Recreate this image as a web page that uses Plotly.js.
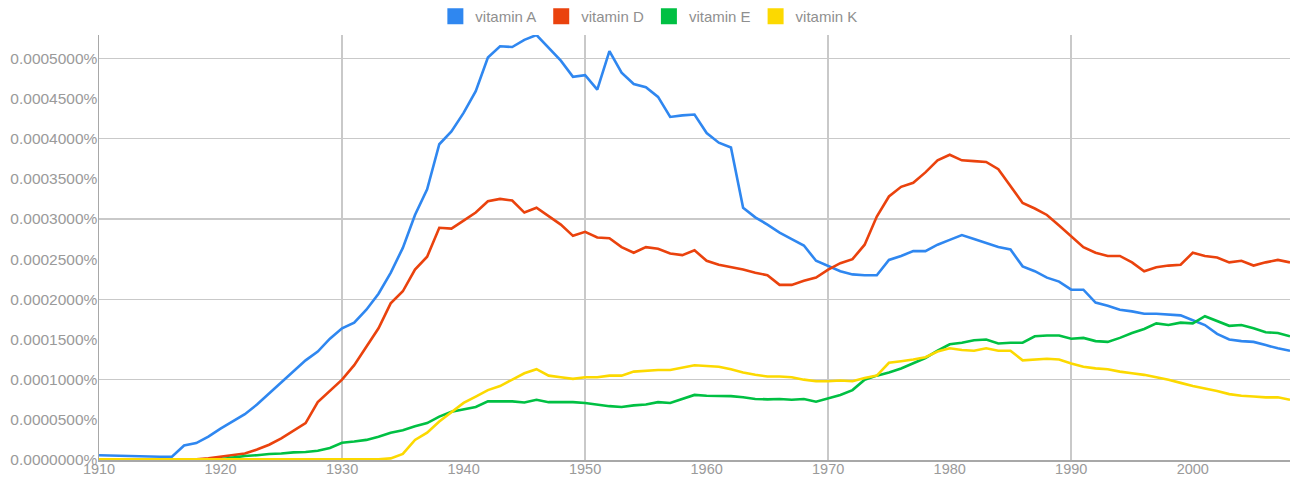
<!DOCTYPE html>
<html>
<head>
<meta charset="utf-8">
<script src="https://cdn.plot.ly/plotly-3.0.1.min.js"></script>
<style>
  html, body { margin: 0; padding: 0; background: #ffffff; }
  #chart { width: 1290px; height: 477px; }
</style>
</head>
<body>
<div id="chart"></div>
<script>
const years = [1910,1911,1912,1913,1914,1915,1916,1917,1918,1919,
  1920,1921,1922,1923,1924,1925,1926,1927,1928,1929,
  1930,1931,1932,1933,1934,1935,1936,1937,1938,1939,
  1940,1941,1942,1943,1944,1945,1946,1947,1948,1949,
  1950,1951,1952,1953,1954,1955,1956,1957,1958,1959,
  1960,1961,1962,1963,1964,1965,1966,1967,1968,1969,
  1970,1971,1972,1973,1974,1975,1976,1977,1978,1979,
  1980,1981,1982,1983,1984,1985,1986,1987,1988,1989,
  1990,1991,1992,1993,1994,1995,1996,1997,1998,1999,
  2000,2001,2002,2003,2004,2005,2006,2007,2008];

const vitaminA = [0.000006,0.0000055,0.000005,0.0000045,0.000004,0.000004,0.000004,0.000018,0.000021,0.000029,
  0.000039,0.000048,0.000057,0.000069,0.000083,0.000097,0.000111,0.000124,0.000135,0.000151,
  0.000164,0.000171,0.000187,0.000207,0.000233,0.000264,0.000305,0.000337,0.000393,0.000409,
  0.000432,0.000459,0.000501,0.000515,0.000514,0.000523,0.000529,0.000513,0.000497,0.000477,
  0.000479,0.000461,0.000509,0.000482,0.000468,0.000464,0.000452,0.000427,0.000429,0.000430,
  0.000407,0.000395,0.000389,0.000314,0.000302,0.000293,0.000283,0.000275,0.000267,0.000248,
  0.000241,0.000235,0.000231,0.000230,0.000230,0.000249,0.000254,0.000260,0.000260,0.000268,
  0.000274,0.000280,0.000275,0.000270,0.000265,0.000262,0.000241,0.000235,0.000227,0.000222,
  0.000212,0.000212,0.000196,0.000192,0.000187,0.000185,0.000182,0.000182,0.000181,0.000180,
  0.000174,0.000168,0.000157,0.000150,0.000148,0.000147,0.000143,0.000139,0.000136];

const vitaminD = [0.000001,0.000001,0.000001,0.000001,0.000001,0.000001,0.000001,0.000001,0.000001,0.000002,
  0.000004,0.000006,0.000008,0.000013,0.000019,0.000027,0.000036,0.000046,0.000072,0.000086,
  0.000100,0.000118,0.000141,0.000164,0.000195,0.000210,0.000237,0.000253,0.000289,0.000288,
  0.000298,0.000308,0.000322,0.000325,0.000323,0.000308,0.000314,0.000303,0.000293,0.000279,
  0.000284,0.000277,0.000276,0.000265,0.000258,0.000265,0.000263,0.000257,0.000255,0.000261,
  0.000248,0.000243,0.000240,0.000237,0.000233,0.000230,0.000218,0.000218,0.000223,0.000227,
  0.000237,0.000245,0.000250,0.000268,0.000303,0.000328,0.000340,0.000345,0.000358,0.000373,
  0.000380,0.000373,0.000372,0.000371,0.000362,0.000341,0.000320,0.000313,0.000305,0.000292,
  0.000278,0.000265,0.000258,0.000254,0.000254,0.000246,0.000235,0.000240,0.000242,0.000243,
  0.000258,0.000254,0.000252,0.000246,0.000248,0.000242,0.000246,0.000249,0.000246];

const vitaminE = [0.000001,0.000001,0.000001,0.000001,0.000001,0.000001,0.000001,0.000001,0.000001,0.000001,
  0.000001,0.000003,0.000005,0.000006,0.0000075,0.000008,0.0000095,0.00001,0.0000115,0.000015,
  0.0000215,0.000023,0.000025,0.000029,0.000034,0.000037,0.000042,0.000046,0.000054,0.000060,
  0.000063,0.000066,0.000073,0.000073,0.000073,0.0000715,0.000075,0.000072,0.000072,0.000072,
  0.000071,0.000069,0.000067,0.000066,0.000068,0.000069,0.000072,0.000071,0.000076,0.000081,
  0.000080,0.000080,0.0000795,0.000078,0.000076,0.0000755,0.000076,0.000075,0.000076,0.0000725,
  0.000077,0.000081,0.000087,0.000100,0.000105,0.000109,0.000114,0.000120,0.000127,0.000136,
  0.000144,0.000146,0.000149,0.000150,0.000145,0.000146,0.000146,0.000154,0.000155,0.000155,
  0.000151,0.000152,0.000148,0.000147,0.000152,0.000158,0.000163,0.000170,0.000168,0.000171,
  0.000170,0.000179,0.000173,0.000167,0.000168,0.000164,0.000159,0.000158,0.000154];

const vitaminK = [0.000001,0.000001,0.000001,0.000001,0.000001,0.000001,0.000001,0.000001,0.000001,0.000001,
  0.000001,0.000001,0.000001,0.000001,0.000001,0.000001,0.000001,0.000001,0.000001,0.000001,
  0.000001,0.000001,0.000001,0.000001,0.000002,0.0000075,0.000025,0.000034,0.000048,0.000060,
  0.000071,0.000079,0.000087,0.000092,0.000100,0.000108,0.000113,0.000105,0.000103,0.000101,
  0.000103,0.000103,0.000105,0.000105,0.000110,0.000111,0.000112,0.000112,0.000115,0.000118,
  0.000117,0.000116,0.000113,0.000109,0.000106,0.000104,0.000104,0.000103,0.000100,0.000098,
  0.000098,0.000099,0.000098,0.000102,0.000105,0.000121,0.000123,0.000125,0.000128,0.000135,
  0.000139,0.000137,0.000136,0.000139,0.000136,0.000136,0.000124,0.000125,0.000126,0.000125,
  0.000120,0.000116,0.000114,0.000113,0.000110,0.000108,0.000106,0.000103,0.000100,0.000096,
  0.000092,0.000089,0.000086,0.000082,0.000080,0.000079,0.000078,0.000078,0.000075];

const seriesNames = ["vitamin A", "vitamin D", "vitamin E", "vitamin K"];
const seriesValues = [vitaminA, vitaminD, vitaminE, vitaminK];
const seriesColors = ["#2f87f0", "#ea420d", "#00c043", "#fcd900"];

const xRange = [1910, 2008];
const yRange = [0, 0.000529];

const traces = [];
seriesValues.forEach((vals, i) => {
  traces.push({
    x: years, y: vals, type: "scatter", mode: "lines",
    name: seriesNames[i], showlegend: false,
    line: { color: seriesColors[i], width: 2.6 },
    hoverinfo: "skip"
  });
});
// legend-only entries with square swatches, on the grid overlay axes
seriesNames.forEach((nm, i) => {
  traces.push({
    x: [null], y: [null], type: "scatter", mode: "markers",
    name: nm, xaxis: "x2", yaxis: "y2",
    marker: { symbol: "square", size: 18, color: seriesColors[i] }
  });
});

const fontFamily = "Liberation Sans, Arial, sans-serif";

const layout = {
  width: 1290, height: 477,
  margin: { l: 99, r: 0, t: 35, b: 17, autoexpand: false },
  paper_bgcolor: "#ffffff", plot_bgcolor: "#ffffff",
  showlegend: true,
  legend: {
    orientation: "h", xref: "container", yref: "container",
    x: 0.503, xanchor: "center", y: 1.0, yanchor: "top",
    font: { family: fontFamily, size: 15, color: "#8f8f8f" },
    itemclick: false, itemdoubleclick: false, tracegroupgap: 0
  },
  xaxis: {
    range: xRange, dtick: 10, tick0: 1910, showgrid: false, zeroline: false,
    showline: true, linecolor: "#a8a8a8", linewidth: 1.5,
    ticks: "", tickfont: { family: fontFamily, size: 14.5, color: "#9a9a9a" },
    automargin: false, ticklabelstandoff: -5
  },
  yaxis: {
    range: yRange, dtick: 0.00005, tick0: 0, showgrid: false, zeroline: false,
    showline: true, linecolor: "#a8a8a8", linewidth: 1.5,
    ticks: "", tickformat: ".7f", ticksuffix: "%",
    tickfont: { family: fontFamily, size: 15.5, color: "#9a9a9a" },
    automargin: false, ticklabelstandoff: -3
  },
  xaxis2: {
    overlaying: "x", range: xRange, dtick: 20, tick0: 1910,
    showgrid: true, gridcolor: "#c9c9c9", gridwidth: 1.5,
    showticklabels: false, zeroline: false, ticks: "", showline: false
  },
  yaxis2: {
    overlaying: "y", range: yRange, dtick: 0.0001, tick0: 0,
    showgrid: true, gridcolor: "#c9c9c9", gridwidth: 1.5,
    showticklabels: false, zeroline: false, ticks: "", showline: false
  }
};

Plotly.newPlot("chart", traces, layout, { displayModeBar: false, staticPlot: true });
</script>
</body>
</html>
